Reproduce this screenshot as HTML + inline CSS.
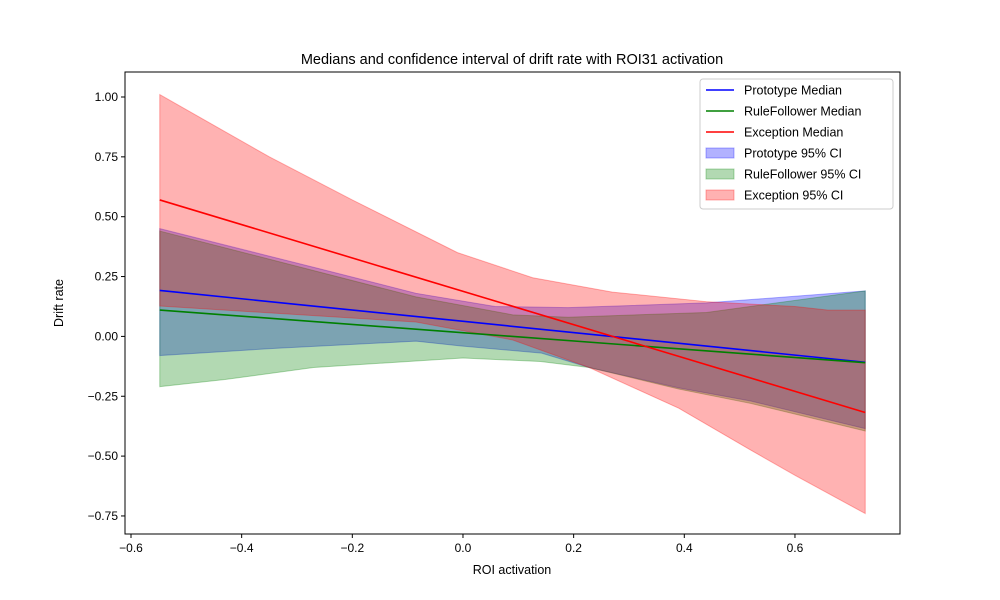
<!DOCTYPE html>
<html><head><meta charset="utf-8"><style>body{margin:0;background:#fff}svg{display:block;font-family:"Liberation Sans","DejaVu Sans",sans-serif}</style></head>
<body>
<svg id="chart" width="1000" height="600"></svg>
<script>
const xTicks=[-0.6,-0.4,-0.2,0.0,0.2,0.4,0.6];
const yTicks=[-0.75,-0.5,-0.25,0,0.25,0.5,0.75,1.0];
const medX=[-0.548,0.727];
const protoMed=[0.192,-0.108];
const ruleMed=[0.11,-0.11];
const excMed=[0.57,-0.318];
const protoUpX=[-0.548,-0.255,-0.085,0.058,0.19,0.44,0.727];
const protoUp=[0.45,0.28,0.18,0.125,0.12,0.14,0.19];
const protoLoX=[-0.548,-0.34,-0.085,-0.003,0.142,0.228,0.39,0.52,0.727];
const protoLo=[-0.08,-0.05,-0.02,-0.04,-0.07,-0.13,-0.215,-0.27,-0.385];
const ruleUpX=[-0.548,-0.085,0.09,0.19,0.44,0.727];
const ruleUp=[0.44,0.165,0.09,0.08,0.1,0.19];
const ruleLoX=[-0.548,-0.43,-0.27,0.0,0.14,0.228,0.39,0.52,0.727];
const ruleLo=[-0.21,-0.18,-0.13,-0.09,-0.105,-0.13,-0.22,-0.28,-0.395];
const excUpX=[-0.548,-0.35,-0.2,-0.01,0.126,0.27,0.44,0.6,0.66,0.727];
const excUp=[1.01,0.75,0.57,0.35,0.245,0.185,0.145,0.125,0.11,0.11];
const excLoX=[-0.548,-0.085,0.09,0.228,0.39,0.52,0.6,0.727];
const excLo=[0.127,0.06,-0.015,-0.13,-0.3,-0.475,-0.58,-0.74];
const L=125,R=900,T=72,B=534;
const sx=v=>131+(v+0.6)*553.3;
const sy=v=>336.4-v*239.4;
const NS="http://www.w3.org/2000/svg";
const svg=document.getElementById('chart');
function mk(tag,attrs,parent){const e=document.createElementNS(NS,tag);for(const k in attrs)e.setAttribute(k,attrs[k]);(parent||svg).appendChild(e);return e;}
function band(xu,yu,xl,yl,fill,stroke,name){
  let pts=xu.map((x,i)=>sx(x)+','+sy(yu[i]));
  for(let i=xl.length-1;i>=0;i--)pts.push(sx(xl[i])+','+sy(yl[i]));
  const p=mk('polygon',{points:pts.join(' '),fill:fill,'fill-opacity':0.3,stroke:stroke,'stroke-opacity':0.3,'stroke-width':1});
  
  
}
function line(xs,ys,col,name){
  const p=mk('polyline',{points:xs.map((x,i)=>sx(x)+','+sy(ys[i])).join(' '),fill:'none',stroke:col,'stroke-width':1.6});
  
  
}
const fmt=(v,d)=>v.toFixed(d).replace('-','\u2212');
band(protoUpX,protoUp,protoLoX,protoLo,'#0000ff','#0000ff','prototype-ci-band');
band(ruleUpX,ruleUp,ruleLoX,ruleLo,'#008000','#008000','rulefollower-ci-band');
band(excUpX,excUp,excLoX,excLo,'#ff0000','#ff0000','exception-ci-band');
line(medX,protoMed,'#0000ff','prototype-median-line');
line(medX,ruleMed,'#008000','rulefollower-median-line');
line(medX,excMed,'#ff0000','exception-median-line');
const frame=mk('rect',{x:L,y:T,width:R-L,height:B-T,fill:'none',stroke:'#000','stroke-width':1});


xTicks.forEach(v=>{const x=sx(v);mk('line',{x1:x,x2:x,y1:B,y2:B+4,stroke:'#000'});
  const t=mk('text',{x:x,y:B+18,'text-anchor':'middle','font-size':12});t.textContent=fmt(v,1);
  
  });
yTicks.forEach(v=>{const y=sy(v);mk('line',{x1:L-4,x2:L,y1:y,y2:y,stroke:'#000'});
  const t=mk('text',{x:L-7,y:y+4,'text-anchor':'end','font-size':12});t.textContent=fmt(v,2);
  
  });
let t=mk('text',{x:512,y:64,'text-anchor':'middle','font-size':14.5});t.textContent='Medians and confidence interval of drift rate with ROI31 activation';


t=mk('text',{x:512,y:574,'text-anchor':'middle','font-size':12.5});t.textContent='ROI activation';


t=mk('text',{x:0,y:0,'text-anchor':'middle','font-size':12.5,transform:'translate(63,303) rotate(-90)'});t.textContent='Drift rate';


const lg=mk('g',{});


mk('rect',{x:700,y:79,width:193,height:130,rx:3,fill:'#fff','fill-opacity':0.8,stroke:'#ccc'},lg);
const entries=[['Prototype Median','#0000ff',0],['RuleFollower Median','#008000',0],['Exception Median','#ff0000',0],['Prototype 95% CI','#0000ff',1],['RuleFollower 95% CI','#008000',1],['Exception 95% CI','#ff0000',1]];
entries.forEach((e,i)=>{const y=90+i*21;
  const g=mk('g',{},lg);
  
  
  if(e[2])mk('rect',{x:706,y:y-5,width:28,height:10,fill:e[1],'fill-opacity':0.3,stroke:e[1],'stroke-opacity':0.3},g);
  else mk('line',{x1:706,x2:734,y1:y,y2:y,stroke:e[1],'stroke-width':1.6},g);
  const tx=mk('text',{x:744,y:y+4.5,'font-size':12.5},g);tx.textContent=e[0];});
</script>
</body></html>
